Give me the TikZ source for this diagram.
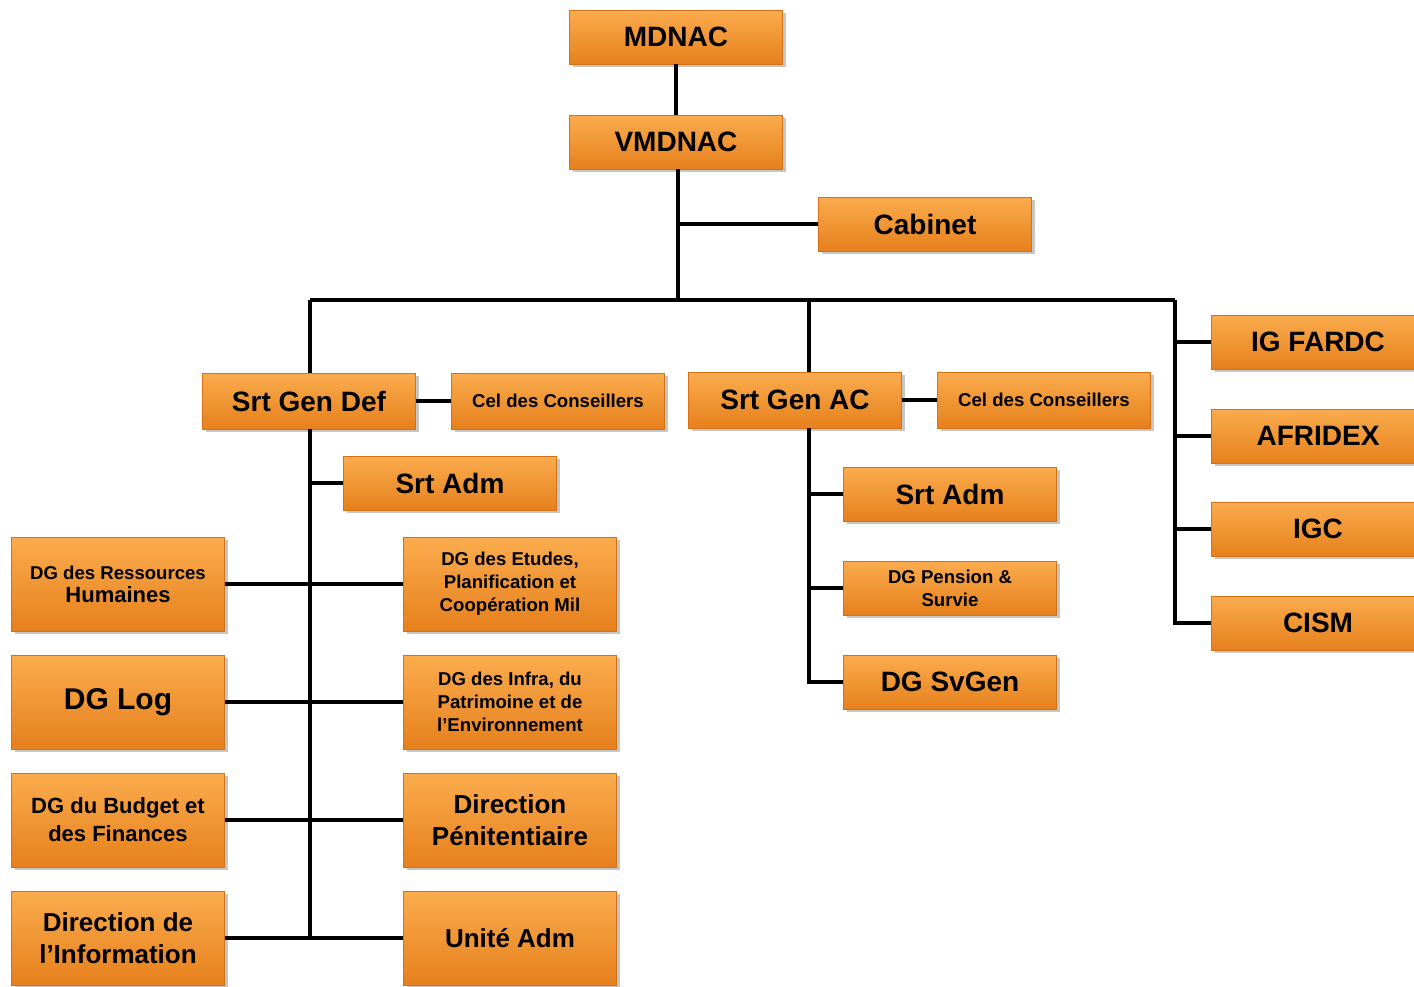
\documentclass[tikz,border=0pt]{standalone}
\usepackage{fontspec}
\setmainfont{Liberation Sans}
\usetikzlibrary{shadows}
\definecolor{boxtop}{RGB}{250,172,78}
\definecolor{boxbot}{RGB}{230,128,28}
\definecolor{boxline}{RGB}{214,112,20}
\begin{document}
\begin{tikzpicture}[x=0.5pt,y=-0.5pt]
    \tikzstyle{every node}=[rectangle, top color=boxtop, bottom color=boxbot, draw=boxline, line width=0.4pt, inner sep=1pt, minimum width=106.5pt, minimum height=27pt, align=center, text=black, font=\bfseries\fontsize{14}{16}\selectfont, drop shadow={shadow xshift=1.5pt, shadow yshift=-1.5pt, opacity=0.45, fill=gray}]
    \tikzstyle{tall}=[minimum height=47pt]
    \tikzstyle{small}=[font=\bfseries\fontsize{9.3}{11.5}\selectfont]
    \tikzstyle{mid}=[font=\bfseries\fontsize{11}{14}\selectfont]
    \tikzstyle{edge}=[black, line width=2pt]

    \useasboundingbox (0,0) rectangle (1414,986);

    \node (mdnac) at (676,37) {MDNAC};
    \node (vmdnac) at (676,142) {VMDNAC};
    \node (cabinet) at (925,224) {Cabinet};

    \node[minimum height=28pt] (srtdef) at (309,401) {Srt Gen Def};
    \node[minimum height=28pt, small] (celdef) at (558,401) {Cel des Conseillers};
    \node[minimum height=28pt] (srtac) at (795,400) {Srt Gen AC};
    \node[minimum height=28pt, small] (celac) at (1044,400) {Cel des Conseillers};

    \node (admdef) at (450,483) {Srt Adm};
    \node[tall, small] (dgrh) at (118,584) {DG des Ressources\\{\fontsize{11}{13}\selectfont Humaines}};
    \node[tall, small] (dgetu) at (510,584) {DG des Etudes,\\Planification et\\Coopération Mil};
    \node[tall, font=\bfseries\fontsize{15}{17}\selectfont] (dglog) at (118,702) {DG Log};
    \node[tall, small] (dginfra) at (510,702) {DG des Infra, du\\Patrimoine et de\\l’Environnement};
    \node[tall, mid] (dgbud) at (118,820) {DG du Budget et\\des Finances};
    \node[tall, font=\bfseries\fontsize{13}{16}\selectfont] (dirpen) at (510,820) {Direction\\Pénitentiaire};
    \node[tall, font=\bfseries\fontsize{13}{16}\selectfont] (dirinfo) at (118,938) {Direction de\\l’Information};
    \node[tall, font=\bfseries\fontsize{13}{16}\selectfont] (uniteadm) at (510,938) {Unité Adm};

    \node (admac) at (950,494) {Srt Adm};
    \node[small] (dgpens) at (950,588) {DG Pension \&\\Survie};
    \node (dgsvgen) at (950,682) {DG SvGen};

    \node (igfardc) at (1318,342) {IG FARDC};
    \node (afridex) at (1318,436) {AFRIDEX};
    \node (igc) at (1318,529) {IGC};
    \node (cism) at (1318,623) {CISM};

    \coordinate (top) at (678,300);
    \coordinate (busl) at (310,300);
    \coordinate (busm) at (809,300);
    \coordinate (busr) at (1175,300);
    \coordinate (spinel) at (310,940);

    \draw[edge] (mdnac) -- (vmdnac);
    \draw[edge] (vmdnac.south -| top) -- (top);
    \draw[edge] (cabinet.west) -- (cabinet.west -| top);
    \draw[edge] (busl) -- (busr);

    \draw[edge] (busl) -- (busl |- srtdef.north);
    \draw[edge] (srtdef) -- (celdef);
    \draw[edge] (busl |- srtdef.south) -- (spinel);
    \draw[edge] (admdef.west) -- (admdef.west -| spinel);
    \draw[edge] (dgrh) -- (dgetu);
    \draw[edge] (dglog) -- (dginfra);
    \draw[edge] (dgbud) -- (dirpen);
    \draw[edge] (dirinfo) -- (uniteadm);

    \draw[edge] (busm) -- (busm |- srtac.north);
    \draw[edge] (srtac) -- (celac);
    \draw[edge] (busm |- srtac.south) |- (dgsvgen.west);
    \draw[edge] (admac.west) -- (admac.west -| busm);
    \draw[edge] (dgpens.west) -- (dgpens.west -| busm);

    \draw[edge] (busr) |- (cism.west);
    \draw[edge] (igfardc.west) -- (igfardc.west -| busr);
    \draw[edge] (afridex.west) -- (afridex.west -| busr);
    \draw[edge] (igc.west) -- (igc.west -| busr);
\end{tikzpicture}
\end{document}
